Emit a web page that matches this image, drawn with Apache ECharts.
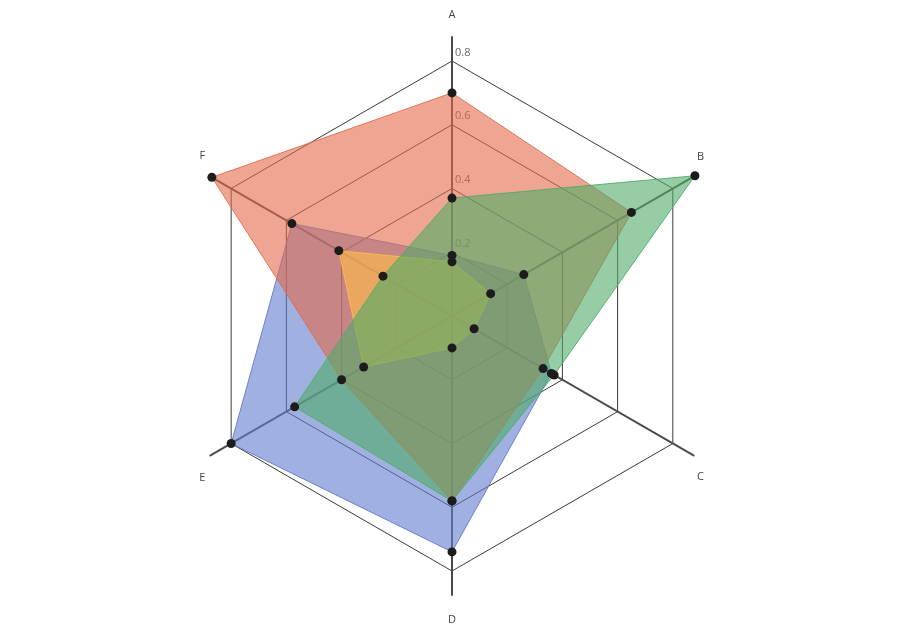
<!DOCTYPE html>
<html>
<head>
<meta charset="utf-8">
<script src="https://cdn.jsdelivr.net/npm/echarts@6/dist/echarts.min.js"></script>
<style>
html,body{margin:0;padding:0;background:#fff;}
#chart{width:904px;height:632px;}
</style>
</head>
<body>
<div id="chart"></div>
<script>
// ---- data ----
const categories = ['A', 'B', 'C', 'D', 'E', 'F'];
const tickValues = [0.2, 0.4, 0.6, 0.8];
const axisMax = 0.875;
const seriesRed    = [0.70, 0.65, 0.33, 0.58, 0.40, 0.87];
const seriesBlue   = [0.19, 0.26, 0.36, 0.74, 0.80, 0.58];
const seriesGreen  = [0.37, 0.88, 0.37, 0.58, 0.57, 0.25];
const seriesOrange = [0.17, 0.14, 0.08, 0.10, 0.32, 0.41];

// ---- layout / style ----
// ECharts places indicators counter-clockwise; reorder so A,B,C... run clockwise.
const order = [0, 5, 4, 3, 2, 1];
const gridMax = tickValues[tickValues.length - 1];
const gridRadius = 255;
const axisRadius = gridRadius * axisMax / gridMax;
const nameStyle = {
  A: { nameGap: 17, tag: 'n' },
  B: { nameGap: 4,  tag: 'up' },
  C: { nameGap: 4,  tag: 'dn' },
  D: { nameGap: 19, tag: 'n' },
  E: { nameGap: 6,  tag: 'dn' },
  F: { nameGap: 6,  tag: 'up' }
};
const reorder = arr => order.map(i => arr[i]);

const gridIndicators = order.map(i => {
  const o = { name: categories[i], min: 0, max: gridMax };
  if (i === 0) {
    o.axisLabel = {
      show: true, margin: -3, align: 'left', verticalAlign: 'bottom',
      padding: [0, 0, 3, 0], color: '#666', fontSize: 11,
      fontFamily: 'Open Sans', showMinLabel: false
    };
  }
  return o;
});
const axisIndicators = order.map(i => ({
  name: categories[i], min: 0, max: axisMax,
  nameGap: nameStyle[categories[i]].nameGap
}));

const alpha = 0.6;
const colors = {
  red: '#e3694a', blue: '#617bcd', green: '#50ac69', orange: '#ffbe46'
};
function mk(name, values, color) {
  return {
    type: 'radar', radarIndex: 0, name: name,
    symbol: 'circle', symbolSize: 9,
    itemStyle: { color: '#1c1c1c' },
    lineStyle: { color: color, width: 1, opacity: 0.9 },
    areaStyle: { color: color, opacity: alpha },
    data: [{ value: reorder(values), name: name }],
    z: 2
  };
}

const chart = echarts.init(document.getElementById('chart'), null, { renderer: 'canvas' });
chart.setOption({
  animation: false,
  backgroundColor: '#fff',
  radar: [
    {
      center: ['50%', '50%'], radius: gridRadius, startAngle: 90,
      shape: 'polygon', splitNumber: tickValues.length,
      indicator: gridIndicators,
      axisName: { show: false },
      axisLine: { show: false },
      axisTick: { show: false },
      axisLabel: { show: false },
      splitLine: { show: true, lineStyle: { color: '#3a3a3a', width: 1 } },
      splitArea: { show: false }
    },
    {
      center: ['50%', '50%'], radius: axisRadius, startAngle: 90,
      shape: 'polygon', splitNumber: 1,
      indicator: axisIndicators,
      axisName: {
        show: true, color: '#444', fontSize: 11, fontFamily: 'Open Sans',
        formatter: function (name) {
          return '{' + nameStyle[name].tag + '|' + name + '}';
        },
        rich: {
          n:  { color: '#444', fontSize: 11, fontFamily: 'Open Sans' },
          up: { color: '#444', fontSize: 11, fontFamily: 'Open Sans', padding: [0, 0, 36, 0] },
          dn: { color: '#444', fontSize: 11, fontFamily: 'Open Sans', padding: [38, 0, 0, 0] }
        }
      },
      axisLine: { show: true, lineStyle: { color: '#4a4a4a', width: 2 } },
      axisTick: { show: false },
      axisLabel: { show: false },
      splitLine: { show: false },
      splitArea: { show: false }
    }
  ],
  series: [
    mk('blue', seriesBlue, colors.blue),
    mk('red', seriesRed, colors.red),
    mk('orange', seriesOrange, colors.orange),
    mk('green', seriesGreen, colors.green)
  ]
});
</script>
</body>
</html>
